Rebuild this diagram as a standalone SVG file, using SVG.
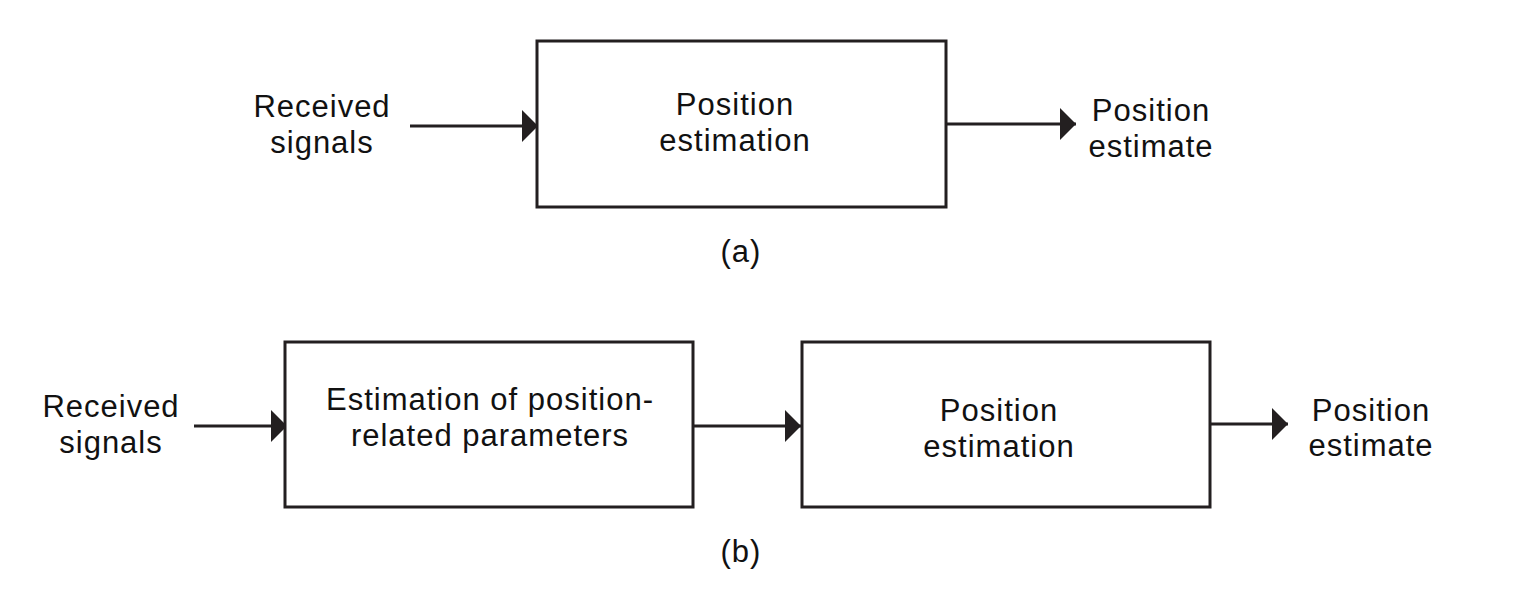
<svg xmlns="http://www.w3.org/2000/svg" width="1522" height="592" viewBox="0 0 1522 592">
<style>
.box{fill:#fff;stroke:#231f20;stroke-width:3}
.t{font-family:"Liberation Sans",Arial,sans-serif;font-size:31px;fill:#111;text-anchor:middle;letter-spacing:1px}
.c{stroke:#231f20;stroke-width:3;fill:none;marker-end:url(#ah)}
</style>
<defs>
<marker id="ah" viewBox="0 0 16 32" refX="16" refY="16" markerWidth="16" markerHeight="32" markerUnits="userSpaceOnUse" orient="auto">
<path d="M0,0 L16,16 L0,32 z" fill="#231f20"/>
</marker>
</defs>
<rect width="1522" height="592" fill="#fff"/>
<g id="connectors">
<line class="c" x1="410" y1="126" x2="538" y2="126"/>
<line class="c" x1="946" y1="124" x2="1076" y2="124"/>
<line class="c" x1="194" y1="426" x2="287" y2="426"/>
<line class="c" x1="693" y1="426" x2="801" y2="426"/>
<line class="c" x1="1210" y1="424" x2="1288" y2="424"/>
</g>
<g id="a-input">
<text class="t" x="322" y="117">Received</text>
<text class="t" x="322" y="153">signals</text>
</g>
<g id="a-box">
<rect class="box" x="537" y="41" width="409" height="166"/>
<text class="t" x="735" y="115">Position</text>
<text class="t" x="735" y="151">estimation</text>
</g>
<g id="a-output">
<text class="t" x="1151" y="121">Position</text>
<text class="t" x="1151" y="157">estimate</text>
</g>
<g id="a-label"><text class="t" x="741" y="262">(a)</text></g>
<g id="b-input">
<text class="t" x="111" y="417">Received</text>
<text class="t" x="111" y="453">signals</text>
</g>
<g id="b-box1">
<rect class="box" x="285" y="342" width="408" height="165"/>
<text class="t" x="490" y="410">Estimation of position-</text>
<text class="t" x="490" y="446">related parameters</text>
</g>
<g id="b-box2">
<rect class="box" x="802" y="342" width="408" height="165"/>
<text class="t" x="999" y="421">Position</text>
<text class="t" x="999" y="457">estimation</text>
</g>
<g id="b-output">
<text class="t" x="1371" y="421">Position</text>
<text class="t" x="1371" y="456">estimate</text>
</g>
<g id="b-label"><text class="t" x="741" y="562">(b)</text></g>
</svg>
